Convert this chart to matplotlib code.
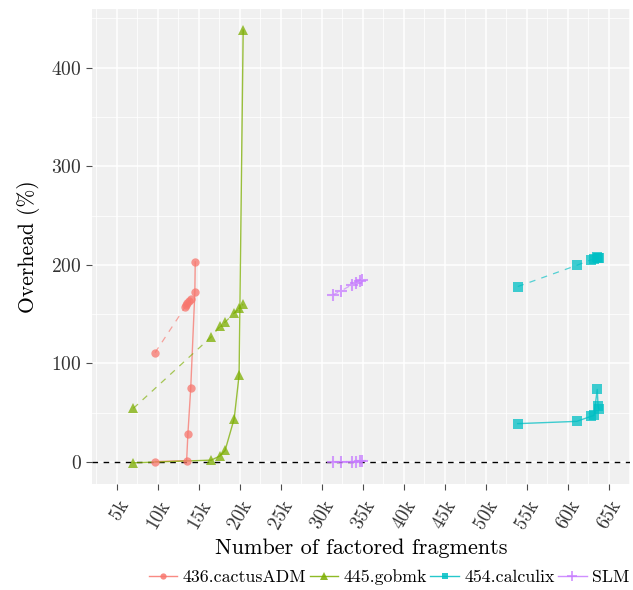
import matplotlib
matplotlib.use("Agg")
import matplotlib.pyplot as plt
from matplotlib.lines import Line2D
from matplotlib.ticker import FixedLocator, MultipleLocator

plt.rcParams["font.family"] = ["cmr10", "DejaVu Serif"]
plt.rcParams["axes.formatter.use_mathtext"] = True
plt.rcParams["mathtext.fontset"] = "cm"

# fragments in thousands, overhead in percent
cactus_x = [9.7, 13.5, 13.65, 14.0, 14.5, 14.55]
cactus_solid = [0.5, 1.5, 28, 75, 172, 203]
cactus_dash_x = [9.65, 13.3, 13.45, 13.6, 13.8, 14.05]
cactus_dash = [111, 157, 159, 161, 163, 165]

gobmk_x = [7.0, 16.5, 17.6, 18.2, 19.3, 19.9, 20.4]
gobmk_solid = [-0.7, 2, 6.4, 12, 44, 88, 438]
gobmk_dash = [54.5, 127, 138, 142, 151, 156, 160]

calculix_x = [53.9, 61.1, 62.8, 63.2, 63.6, 63.7, 63.8]
calculix_solid = [39, 41.3, 46.3, 47.4, 73.7, 57, 53.4]
calculix_dash = [178, 199.5, 205, 205.5, 207.5, 207, 206.5]

slm_x = [31.3, 32.3, 33.7, 34.15, 34.6, 34.9]
slm_solid = [0.3, 0.4, 0.5, 0.6, 0.7, 0.8]
slm_dash = [169.4, 173.4, 180, 182, 184, 184.6]

x_ticks = [5, 10, 15, 20, 25, 30, 35, 40, 45, 50, 55, 60, 65]
x_labels = [f"{t}k" for t in x_ticks]
y_ticks = [0, 100, 200, 300, 400]

series = [
    ("436.cactusADM", "#F8766D", "o", 6, cactus_x, cactus_solid, cactus_dash_x, cactus_dash),
    ("445.gobmk", "#7CAE00", "^", 7, gobmk_x, gobmk_solid, gobmk_x, gobmk_dash),
    ("454.calculix", "#00BFC4", "s", 6.5, calculix_x, calculix_solid, calculix_x, calculix_dash),
    ("SLM", "#C77CFF", "+", 9, slm_x, slm_solid, slm_x, slm_dash),
]

fig = plt.figure(figsize=(6.33, 5.90), dpi=100)
ax = fig.add_axes([0.1453, 0.179, 0.850, 0.8057])
ax.set_facecolor("#F0F0F0")
for s in ax.spines.values():
    s.set_visible(False)

ax.axhline(0, color="black", lw=1.0, ls=(0, (4, 4)), zorder=1)

handles = []
for name, col, mk, ms, xs, ys, dxs, dys in series:
    mew = 1.5 if mk == "+" else 0
    ax.plot(xs, ys, color=col, lw=1.0, alpha=0.75, zorder=2)
    ax.plot(xs, ys, color=col, lw=0, marker=mk, ms=ms, mew=mew, alpha=0.75, zorder=3)
    ax.plot(dxs, dys, color=col, lw=0.9, alpha=0.65, ls=(0, (5, 5)), zorder=2)
    ax.plot(dxs, dys, color=col, lw=0, marker=mk, ms=ms, mew=mew, alpha=0.75, zorder=3)
    handles.append(Line2D([], [], color=col, marker=mk, ms=ms - 1.5, lw=1.0, alpha=0.85,
                          mew=1.2 if mk == "+" else 0, label=name))

ax.set_xlim(1.95, 67.6)
ax.set_ylim(-22.6, 459.4)
ax.xaxis.set_major_locator(FixedLocator(x_ticks))
ax.xaxis.set_minor_locator(MultipleLocator(2.5))
ax.yaxis.set_major_locator(FixedLocator(y_ticks))
ax.yaxis.set_minor_locator(MultipleLocator(50))
ax.set_xticklabels(x_labels, rotation=60, ha="right", rotation_mode="anchor")
ax.grid(which="major", color="white", lw=1.1, zorder=0)
ax.grid(which="minor", color="white", lw=0.55, zorder=0)
ax.set_axisbelow(True)
ax.tick_params(which="major", length=4, color="#4D4D4D", labelsize=14, labelcolor="#333333")
ax.tick_params(which="minor", length=0)
ax.tick_params(axis="x", pad=5)

ax.set_xlabel("Number of factored fragments", fontsize=16, labelpad=5)
ax.set_ylabel("Overhead (%)", fontsize=15.5, labelpad=8)

fig.legend(handles=handles, loc="center", bbox_to_anchor=(389 / 633, 1 - 577 / 590),
           ncol=4, frameon=False, fontsize=12.8, handlelength=1.6, handletextpad=0.3,
           columnspacing=0.2, borderpad=0.2)

fig.savefig("out.png", dpi=100)
